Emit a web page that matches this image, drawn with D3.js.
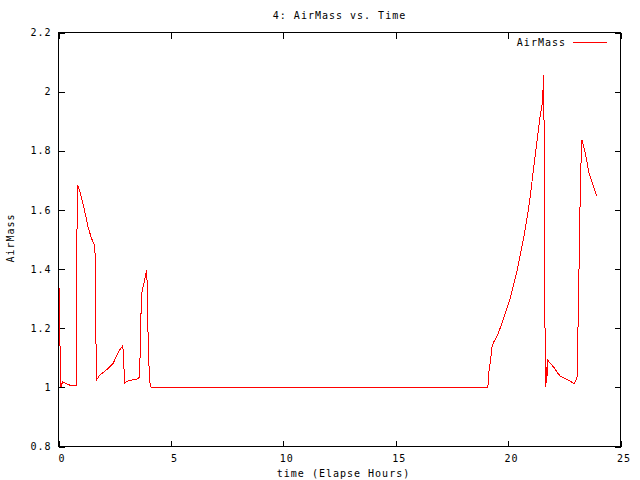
<!DOCTYPE html>
<html>
<head>
<meta charset="utf-8">
<script src="https://cdn.jsdelivr.net/npm/d3@7"></script>
<style>
  body { margin: 0; background: #fff; }
  text { font-family: "DejaVu Sans Mono", monospace; font-size: 10px; letter-spacing: 1px; fill: #000; }
</style>
</head>
<body>
<div id="chart"></div>
<script>
// elapsed time (hours) and air mass
const time = [0.05, 0.07, 0.1, 0.18, 0.4, 0.55, 0.78, 0.79, 0.82, 0.85, 0.89, 1.01, 1.16, 1.30, 1.45, 1.57, 1.62,
  1.64, 1.67, 1.70, 1.82, 1.97, 2.19, 2.42, 2.56, 2.71, 2.86, 2.89, 2.94, 3.08, 3.31, 3.46, 3.60,
  3.63, 3.67, 3.71, 3.81, 3.89, 3.93, 3.95, 4.00, 4.05, 4.12,
  19.10, 19.14, 19.22, 19.29, 19.36, 19.52, 19.66, 19.81, 19.96, 20.11, 20.25, 20.40, 20.55, 20.70,
  20.85, 21.00, 21.14, 21.29, 21.44, 21.52, 21.56, 21.59, 21.63, 21.68, 21.71, 21.72, 21.77, 21.89,
  22.03, 22.18, 22.33, 22.55, 22.78, 22.95, 23.09, 23.10, 23.15, 23.19, 23.24, 23.28, 23.33, 23.44,
  23.59, 23.74, 23.95];
const airMass = [1.335, 1.11, 1.0, 1.018, 1.011, 1.006, 1.006, 1.175, 1.515, 1.685, 1.677, 1.646, 1.598, 1.547, 1.508, 1.485, 1.48,
  1.36, 1.14, 1.026, 1.040, 1.049, 1.063, 1.080, 1.102, 1.125, 1.141, 1.108, 1.015, 1.021, 1.026, 1.026, 1.034,
  1.108, 1.249, 1.322, 1.356, 1.384, 1.395, 1.305, 1.125, 1.023, 1.0,
  1.0, 1.051, 1.091, 1.141, 1.153, 1.175, 1.203, 1.237, 1.271, 1.305, 1.35, 1.395, 1.452, 1.508,
  1.575, 1.655, 1.745, 1.835, 1.925, 1.959, 2.015, 2.055, 1.266, 1.0, 1.068, 1.023, 1.091, 1.080,
  1.068, 1.051, 1.037, 1.029, 1.020, 1.012, 1.040, 1.158, 1.378, 1.575, 1.75, 1.837, 1.823, 1.790,
  1.728, 1.694, 1.646];

// tick values
const xTicks = [0, 5, 10, 15, 20, 25];
const yTicks = [0.8, 1, 1.2, 1.4, 1.6, 1.8, 2, 2.2];

const width = 640, height = 480;
const plot = { left: 58, right: 620, top: 32, bottom: 446 };

const svg = d3.select("#chart").append("svg")
    .attr("width", width)
    .attr("height", height);

const g = svg.append("g").attr("transform", "translate(0.5,0.5)");

const x = d3.scaleLinear().domain([0, 25]).range([plot.left, plot.right]);
const y = d3.scaleLinear().domain([0.8, 2.2]).range([plot.bottom, plot.top]);

// axes, gnuplot style: ticks point inward, mirrored on top/right
const bottomAxis = g.append("g")
    .attr("transform", `translate(0,${plot.bottom})`)
    .call(d3.axisBottom(x).tickValues(xTicks).tickSizeInner(-6).tickSizeOuter(0).tickPadding(8).tickFormat(d3.format("")));
bottomAxis.selectAll("text").attr("dx", 3);

g.append("g")
    .attr("transform", `translate(0,${plot.top})`)
    .call(d3.axisTop(x).tickValues(xTicks).tickSizeInner(-6).tickSizeOuter(0).tickFormat(""));

g.append("g")
    .attr("transform", `translate(${plot.left},0)`)
    .call(d3.axisLeft(y).tickValues(yTicks).tickSizeInner(-6).tickSizeOuter(0).tickPadding(7).tickFormat(d3.format("")));

g.append("g")
    .attr("transform", `translate(${plot.right},0)`)
    .call(d3.axisRight(y).tickValues(yTicks).tickSizeInner(-6).tickSizeOuter(0).tickFormat(""));

g.selectAll(".domain").remove();
g.selectAll(".tick line").attr("stroke", "#000").attr("shape-rendering", "crispEdges");
g.selectAll(".tick text").attr("font-family", null).attr("font-size", null);

// border
g.append("rect")
    .attr("x", plot.left).attr("y", plot.top)
    .attr("width", plot.right - plot.left).attr("height", plot.bottom - plot.top)
    .attr("fill", "none").attr("stroke", "#000")
    .attr("shape-rendering", "crispEdges");

// data line
const line = d3.line()
    .x((d, i) => x(time[i]))
    .y(d => y(d));

g.append("path")
    .datum(airMass)
    .attr("d", line)
    .attr("fill", "none")
    .attr("stroke", "#ff0000")
    .attr("stroke-width", 1)
    .attr("shape-rendering", "crispEdges");

// legend
svg.append("text")
    .attr("x", 566).attr("y", 46)
    .attr("text-anchor", "end")
    .text("AirMass");
svg.append("line")
    .attr("x1", 573).attr("x2", 607)
    .attr("y1", 42.5).attr("y2", 42.5)
    .attr("stroke", "#ff0000");

// title and labels
svg.append("text")
    .attr("x", 339.5).attr("y", 19)
    .attr("text-anchor", "middle")
    .text("4: AirMass vs. Time");

svg.append("text")
    .attr("x", 343.5).attr("y", 477)
    .attr("text-anchor", "middle")
    .text("time (Elapse Hours)");

svg.append("text")
    .attr("transform", "translate(13.5,238) rotate(-90)")
    .attr("text-anchor", "middle")
    .text("AirMass");
</script>
</body>
</html>
